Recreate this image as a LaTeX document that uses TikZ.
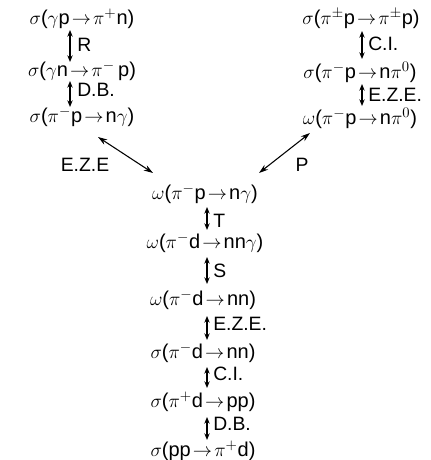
\documentclass[tikz,border=0pt]{standalone}
\usepackage{fontspec}
\setmainfont{Liberation Sans}
\usetikzlibrary{arrows.meta,calc}
\begin{document}
\begin{tikzpicture}[x=0.75pt,y=-0.75pt,
  expr/.style={inner sep=0pt,font=\fontsize{15}{17}\selectfont},
  lab/.style={inner sep=0pt,anchor=west,font=\fontsize{14.5}{16}\selectfont},
  dar/.style={{Stealth[length=5pt,width=4pt]}-{Stealth[length=5pt,width=4pt]},line width=0.9pt},
  diag/.style={{Stealth[length=7pt,width=4.5pt]}-{Stealth[length=7pt,width=4.5pt]},line width=0.8pt}]
\useasboundingbox (0,0) rectangle (430,460);
\newcommand{\ar}{$\mskip2mu\rightarrow\mskip2mu$}
% left column
\node[expr] (l1) at (82,19) {$\sigma$($\gamma$p\ar$\pi^{+}$n)};
\node[expr] (l2) at (82,71) {$\sigma$($\gamma$n\ar$\pi^{-}$\,p)};
\node[expr] (l3) at (82,117) {$\sigma$($\pi^{-}$p\ar n$\gamma$)};
\coordinate (la) at (70,0);
\draw[dar] ($(l1.center -| la)+(0,11)$) -- ($(l2.center -| la)+(0,-9)$);
\draw[dar] ($(l2.center -| la)+(0,10)$) -- ($(l3.center -| la)+(0,-10)$);
\node[lab] (lR) at (77,45) {R};
\node[lab] (lDB) at (77,90) {D.B.};
% right column
\node[expr] (r1) at (361,19) {$\sigma$($\pi^{\pm}$p\ar$\pi^{\pm}$p)};
\node[expr] (r2) at (360,72) {$\sigma$($\pi^{-}$p\ar n$\pi^{0}$)};
\node[expr] (r3) at (360,118) {$\omega$($\pi^{-}$p\ar n$\pi^{0}$)};
\coordinate (ra) at (362,0);
\draw[dar] ($(r1.center -| ra)+(0,12)$) -- ($(r2.center -| ra)+(0,-13)$);
\draw[dar] ($(r2.center -| ra)+(0,12)$) -- ($(r3.center -| ra)+(0,-12)$);
\node[lab] (rCI) at (368,44) {C.I.};
\node[lab] (rEZE) at (368,95) {E.Z.E.};
% center column
\node[expr] (c1) at (205,194) {$\omega$($\pi^{-}$p\ar n$\gamma$)};
\node[expr] (c2) at (205,243) {$\omega$($\pi^{-}$d\ar nn$\gamma$)};
\node[expr] (c3) at (203,300) {$\omega$($\pi^{-}$d\ar nn)};
\node[expr] (c4) at (203,353) {$\sigma$($\pi^{-}$d\ar nn)};
\node[expr] (c5) at (203,402) {$\sigma$($\pi^{+}$d\ar pp)};
\node[expr] (c6) at (203,451) {$\sigma$(pp\ar$\pi^{+}$d)};
\coordinate (ca) at (207,0);
\draw[dar] ($(c1.center -| ca)+(0,13)$) -- ($(c2.center -| ca)+(0,-13)$);
\draw[dar] ($(c2.center -| ca)+(0,14)$) -- ($(c3.center -| ca)+(0,-16)$);
\draw[dar] ($(c3.center -| ca)+(0,16)$) -- ($(c4.center -| ca)+(0,-13)$);
\draw[dar] ($(c4.center -| ca)+(0,14)$) -- ($(c5.center -| ca)+(0,-14)$);
\draw[dar] ($(c5.center -| ca)+(0,15)$) -- ($(c6.center -| ca)+(0,-11)$);
\node[lab] (cT) at (213,221) {T};
\node[lab] (cS) at (213,271) {S};
\node[lab] (cEZE) at (213,324) {E.Z.E.};
\node[lab] (cCI) at (213,374) {C.I.};
\node[lab] (cDB) at (213,424) {D.B.};
% diagonal connectors
\coordinate (dl) at (98,137);
\coordinate (dlc) at (153,173);
\coordinate (dr) at (310,133);
\coordinate (drc) at (259,173);
\draw[diag] (dl) -- (dlc);
\draw[diag] (dr) -- (drc);
\node[lab,anchor=center] (lEZE) at (85,165) {E.Z.E};
\node[lab,anchor=center] (lP) at (302,165) {P};
\end{tikzpicture}
\end{document}
